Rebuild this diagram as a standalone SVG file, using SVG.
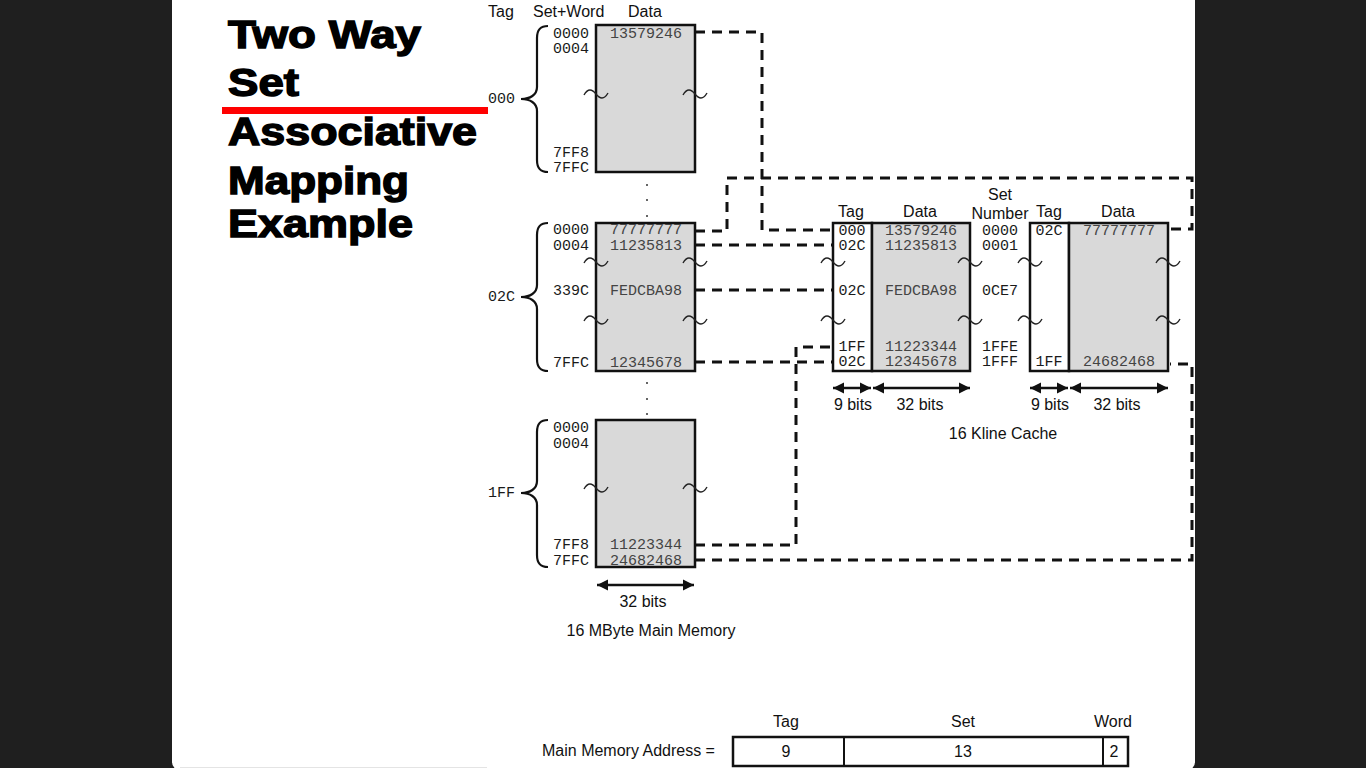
<svg xmlns="http://www.w3.org/2000/svg" xmlns:xlink="http://www.w3.org/1999/xlink" width="1366" height="768" viewBox="0 0 1366 768">
  <style>
    .title { font-family: "Liberation Sans", Arial, sans-serif; font-weight: bold; font-size: 38px; fill: #000; stroke: #000; stroke-width: 1.4px; }
    .sans { font-family: "Liberation Sans", Arial, sans-serif; font-size: 16px; fill: #111; }
    .mid { text-anchor: middle; }
    .end { text-anchor: end; }
    .mono { font-family: "Liberation Mono", "DejaVu Sans Mono", monospace; font-size: 15px; fill: #1a1a1a; }
    .val { fill: #444; }
    .mem { fill: #d9d9d9; stroke: #111; stroke-width: 2.5; }
    .tagcol { fill: #fff; stroke: #111; stroke-width: 2.5; }
    .brace { fill: none; stroke: #111; stroke-width: 2.2; }
    .tilde { fill: none; stroke: #222; stroke-width: 1.4; }
    .dash { fill: none; stroke: #111; stroke-width: 3; stroke-dasharray: 10 7; }
    .span { stroke: #111; stroke-width: 2.5; marker-start: url(#head); marker-end: url(#head); }
    .dot { fill: #333; }
  </style>
  <defs>
    <marker id="head" viewBox="0 0 10 10" refX="10" refY="5" markerWidth="11" markerHeight="12" markerUnits="userSpaceOnUse" orient="auto-start-reverse">
      <path d="M0,0 L10,5 L0,10 z" fill="#111"/>
    </marker>
    <path id="tl" class="tilde" d="M-12,1 C-8,-6 -4,-5 0,0 C4,5 8,6 12,-1"/>
  </defs>

  <!-- page backdrop and slide -->
  <rect x="0" y="0" width="1366" height="768" fill="#1f1f1f"/>
  <rect x="172" y="-10" width="1023" height="780" rx="8" fill="#ffffff"/>
  <line x1="180" y1="767.5" x2="487" y2="767.5" stroke="#e4e4e4" stroke-width="1"/>

  <!-- title -->
  <g id="title">
    <text class="title" x="228" y="48" textLength="193" lengthAdjust="spacingAndGlyphs">Two Way</text>
    <text class="title" x="228" y="96" textLength="71" lengthAdjust="spacingAndGlyphs">Set</text>
    <text class="title" x="228" y="145" textLength="249" lengthAdjust="spacingAndGlyphs">Associative</text>
    <text class="title" x="228" y="194" textLength="181" lengthAdjust="spacingAndGlyphs">Mapping</text>
    <text class="title" x="228" y="237" textLength="185" lengthAdjust="spacingAndGlyphs">Example</text>
    <rect x="222" y="107" width="266" height="7" fill="#ff0000"/>
  </g>

  <!-- column headings for main memory -->
  <g id="mem-headings">
    <text class="sans" x="488" y="17">Tag</text>
    <text class="sans" x="533" y="17">Set+Word</text>
    <text class="sans" x="628" y="17">Data</text>
  </g>

  <!-- connectors -->
  <g id="connectors">
    <polyline class="dash" points="695,32 762,32 762,230 833,230"/>
    <polyline class="dash" points="695,231 727,231 727,178 1192,178 1192,229 1170,229"/>
    <line class="dash" x1="695" y1="245" x2="833" y2="245"/>
    <line class="dash" x1="695" y1="290" x2="833" y2="290"/>
    <line class="dash" x1="695" y1="362" x2="833" y2="362"/>
    <polyline class="dash" points="695,545 796,545 796,347 833,347"/>
    <polyline class="dash" points="695,560 1192,560 1192,364 1170,364"/>
  </g>

  <!-- main memory block for tag 000 -->
  <g id="mem-000">
    <path class="brace" d="M548,26 C540,26 537,30 537,38 L537,87 C537,95 530,99 521,99 C530,99 537,103 537,111 L537,160 C537,168 540,172 548,172"/>
    <text class="mono end" x="515" y="103">000</text>
    <rect class="mem" x="596" y="25" width="99" height="147"/>
    <text class="mono end" x="589" y="38">0000</text>
    <text class="mono end" x="589" y="53">0004</text>
    <text class="mono end" x="589" y="157">7FF8</text>
    <text class="mono end" x="589" y="172">7FFC</text>
    <text class="mono val mid" x="646" y="38">13579246</text>
    <use xlink:href="#tl" x="596" y="94"/>
    <use xlink:href="#tl" x="695" y="94"/>
  </g>

  <g id="gap-dots-1">
    <circle class="dot" cx="647" cy="185" r="1"/>
    <circle class="dot" cx="647" cy="200" r="1"/>
    <circle class="dot" cx="647" cy="216" r="1"/>
  </g>

  <!-- main memory block for tag 02C -->
  <g id="mem-02C">
    <path class="brace" d="M548,223 C540,223 537,227 537,235 L537,285 C537,293 530,297 521,297 C530,297 537,301 537,309 L537,359 C537,367 540,371 548,371"/>
    <text class="mono end" x="515" y="301">02C</text>
    <rect class="mem" x="596" y="223" width="99" height="148"/>
    <text class="mono end" x="589" y="234">0000</text>
    <text class="mono end" x="589" y="250">0004</text>
    <text class="mono end" x="589" y="295">339C</text>
    <text class="mono end" x="589" y="367">7FFC</text>
    <text class="mono val mid" x="646" y="234">77777777</text>
    <text class="mono val mid" x="646" y="250">11235813</text>
    <text class="mono val mid" x="646" y="295">FEDCBA98</text>
    <text class="mono val mid" x="646" y="367">12345678</text>
    <use xlink:href="#tl" x="596" y="262"/>
    <use xlink:href="#tl" x="695" y="262"/>
    <use xlink:href="#tl" x="596" y="320"/>
    <use xlink:href="#tl" x="695" y="320"/>
  </g>

  <g id="gap-dots-2">
    <circle class="dot" cx="647" cy="383" r="1"/>
    <circle class="dot" cx="647" cy="399" r="1"/>
    <circle class="dot" cx="647" cy="414" r="1"/>
  </g>

  <!-- main memory block for tag 1FF -->
  <g id="mem-1FF">
    <path class="brace" d="M548,420 C540,420 537,424 537,432 L537,481 C537,489 530,493 521,493 C530,493 537,497 537,505 L537,555 C537,563 540,567 548,567"/>
    <text class="mono end" x="515" y="497">1FF</text>
    <rect class="mem" x="596" y="420" width="99" height="147"/>
    <text class="mono end" x="589" y="432">0000</text>
    <text class="mono end" x="589" y="448">0004</text>
    <text class="mono end" x="589" y="549">7FF8</text>
    <text class="mono end" x="589" y="565">7FFC</text>
    <text class="mono val mid" x="646" y="549">11223344</text>
    <text class="mono val mid" x="646" y="565">24682468</text>
    <use xlink:href="#tl" x="596" y="488"/>
    <use xlink:href="#tl" x="695" y="488"/>
  </g>

  <g id="mem-caption">
    <line class="span" x1="597" y1="585" x2="694" y2="585"/>
    <text class="sans mid" x="643" y="607">32 bits</text>
    <text class="sans mid" x="651" y="636">16 MByte Main Memory</text>
  </g>

  <!-- cache, way 0 -->
  <g id="cache-way0">
    <text class="sans mid" x="851" y="217">Tag</text>
    <text class="sans mid" x="920" y="217">Data</text>
    <rect class="tagcol" x="833" y="223" width="39" height="148"/>
    <rect class="mem" x="872" y="223" width="98" height="148"/>
    <text class="mono mid" x="852" y="235">000</text>
    <text class="mono mid" x="852" y="250">02C</text>
    <text class="mono mid" x="852" y="295">02C</text>
    <text class="mono mid" x="852" y="351">1FF</text>
    <text class="mono mid" x="852" y="366">02C</text>
    <text class="mono val mid" x="921" y="235">13579246</text>
    <text class="mono val mid" x="921" y="250">11235813</text>
    <text class="mono val mid" x="921" y="295">FEDCBA98</text>
    <text class="mono val mid" x="921" y="351">11223344</text>
    <text class="mono val mid" x="921" y="366">12345678</text>
    <use xlink:href="#tl" x="833" y="262"/>
    <use xlink:href="#tl" x="970" y="262"/>
    <use xlink:href="#tl" x="833" y="320"/>
    <use xlink:href="#tl" x="970" y="320"/>
    <line class="span" x1="833" y1="388" x2="871" y2="388"/>
    <line class="span" x1="873" y1="388" x2="970" y2="388"/>
    <text class="sans mid" x="853" y="410">9 bits</text>
    <text class="sans mid" x="920" y="410">32 bits</text>
  </g>

  <!-- set numbers -->
  <g id="cache-sets">
    <text class="sans mid" x="1000" y="200">Set</text>
    <text class="sans mid" x="1000" y="219">Number</text>
    <text class="mono mid" x="1000" y="235">0000</text>
    <text class="mono mid" x="1000" y="250">0001</text>
    <text class="mono mid" x="1000" y="295">0CE7</text>
    <text class="mono mid" x="1000" y="351">1FFE</text>
    <text class="mono mid" x="1000" y="366">1FFF</text>
  </g>

  <!-- cache, way 1 -->
  <g id="cache-way1">
    <text class="sans mid" x="1049" y="217">Tag</text>
    <text class="sans mid" x="1118" y="217">Data</text>
    <rect class="tagcol" x="1030" y="223" width="39" height="148"/>
    <rect class="mem" x="1069" y="223" width="99" height="148"/>
    <text class="mono mid" x="1049" y="235">02C</text>
    <text class="mono mid" x="1049" y="366">1FF</text>
    <text class="mono val mid" x="1119" y="235">77777777</text>
    <text class="mono val mid" x="1119" y="366">24682468</text>
    <use xlink:href="#tl" x="1030" y="262"/>
    <use xlink:href="#tl" x="1168" y="262"/>
    <use xlink:href="#tl" x="1030" y="320"/>
    <use xlink:href="#tl" x="1168" y="320"/>
    <line class="span" x1="1030" y1="388" x2="1068" y2="388"/>
    <line class="span" x1="1070" y1="388" x2="1168" y2="388"/>
    <text class="sans mid" x="1050" y="410">9 bits</text>
    <text class="sans mid" x="1117" y="410">32 bits</text>
  </g>

  <g id="cache-caption">
    <text class="sans mid" x="1003" y="439">16 Kline Cache</text>
  </g>

  <!-- address format -->
  <g id="address">
    <text class="sans" x="542" y="756">Main Memory Address =</text>
    <text class="sans mid" x="786" y="727">Tag</text>
    <text class="sans mid" x="963" y="727">Set</text>
    <text class="sans mid" x="1113" y="727">Word</text>
    <rect x="733" y="737" width="395" height="29" fill="#fff" stroke="#111" stroke-width="2.5"/>
    <line x1="844" y1="737" x2="844" y2="766" stroke="#111" stroke-width="2"/>
    <line x1="1103" y1="737" x2="1103" y2="766" stroke="#111" stroke-width="2"/>
    <text class="sans mid" x="786" y="757">9</text>
    <text class="sans mid" x="963" y="757">13</text>
    <text class="sans mid" x="1114" y="757">2</text>
  </g>
</svg>
